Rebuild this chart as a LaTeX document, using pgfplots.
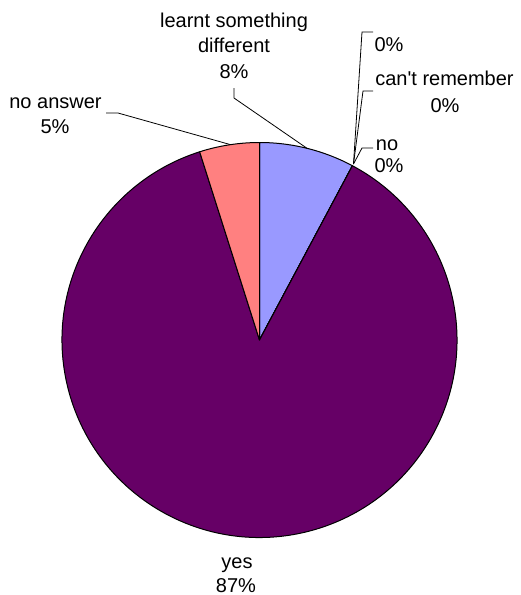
\documentclass[border=0pt]{standalone}
\usepackage{pgfplots}
\usepackage{pgfplotstable}
\usepackage{fontspec}
\pgfplotsset{compat=1.18}
\setmainfont{Liberation Sans}[Ligatures=TeXOff]

% slice shares in percent, clockwise from 12 o'clock
\pgfplotstableread[col sep=comma]{
label,value
learnt something different,7.8
blank,0
can't remember,0
no,0
yes,87.3
no answer,4.9
}\piedata

\definecolor{pc0}{HTML}{9999FF}
\definecolor{pc1}{HTML}{993366}
\definecolor{pc2}{HTML}{FFFFCC}
\definecolor{pc3}{HTML}{CCFFFF}
\definecolor{pc4}{HTML}{660066}
\definecolor{pc5}{HTML}{FF8080}

\begin{document}
\begin{tikzpicture}[font=\fontsize{20}{24}\selectfont]
\gdef\cumval{0}
\foreach \i in {0,...,5}{%
  \pgfplotstablegetelem{\i}{value}\of\piedata
  \pgfmathsetmacro\sa{90-3.6*\cumval}%
  \pgfmathsetmacro\nc{\cumval+\pgfplotsretval}%
  \pgfmathsetmacro\ea{90-3.6*\nc}%
  \expandafter\xdef\csname pieS\i\endcsname{\sa}%
  \expandafter\xdef\csname pieE\i\endcsname{\ea}%
  \xdef\cumval{\nc}%
}
\begin{axis}[
    width=521pt, height=595pt, scale only axis,
    xmin=0, xmax=521, ymin=0, ymax=595,
    y dir=reverse, hide axis, clip=false,
]
% keep the whole canvas as the page
\path (axis cs:0,0) rectangle (axis cs:521,595);
\pgfplotsinvokeforeach{0,...,5}{
  \filldraw[fill=pc#1, draw=black, line width=1pt, line join=round]
    (axis cs:259.5,340) -- ++(\csname pieS#1\endcsname:197.5pt)
    arc[start angle=\csname pieS#1\endcsname, end angle=\csname pieE#1\endcsname, radius=197.5pt] -- cycle;
}
% leader lines
\draw[line width=0.8pt] (axis cs:234,88) -- (axis cs:234,98) -- (axis cs:307,148.3);
\draw[line width=0.8pt] (axis cs:373,32) -- (axis cs:362,32) -- (axis cs:353.5,164);
\draw[line width=0.8pt] (axis cs:373,91) -- (axis cs:363,91) -- (axis cs:353.5,164);
\draw[line width=0.8pt] (axis cs:373,148) -- (axis cs:362,148) -- (axis cs:353.5,164);
\draw[line width=0.8pt] (axis cs:106,113) -- (axis cs:118,113) -- (axis cs:230,144.5);
% data labels
\node[anchor=base, inner sep=0] at (axis cs:234,27) {learnt something};
\node[anchor=base, inner sep=0] at (axis cs:234,52) {different};
\node[anchor=base, inner sep=0] at (axis cs:234,78) {8\%};
\node[anchor=base, inner sep=0] at (axis cs:389,51) {0\%};
\node[anchor=base, inner sep=0] at (axis cs:444.5,85) {can't remember};
\node[anchor=base, inner sep=0] at (axis cs:445,112) {0\%};
\node[anchor=base, inner sep=0] at (axis cs:387,150) {no};
\node[anchor=base, inner sep=0] at (axis cs:389,172) {0\%};
\node[anchor=base, inner sep=0] at (axis cs:55.5,108) {no answer};
\node[anchor=base, inner sep=0] at (axis cs:55,133) {5\%};
\node[anchor=base, inner sep=0] at (axis cs:237,568) {yes};
\node[anchor=base, inner sep=0] at (axis cs:236,592) {87\%};
\end{axis}
\end{tikzpicture}
\end{document}
